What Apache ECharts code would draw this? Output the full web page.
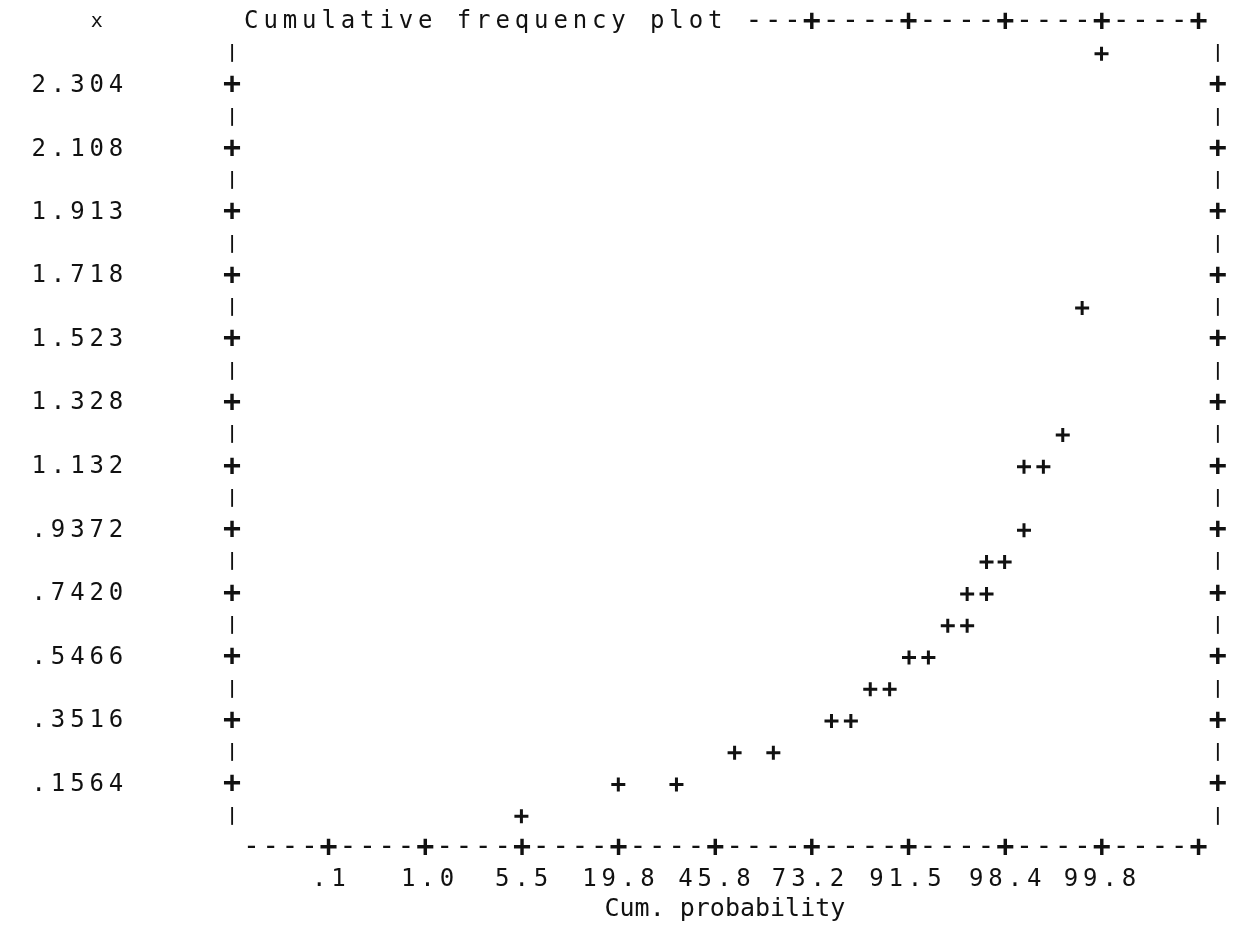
<!DOCTYPE html>
<html>
<head>
<meta charset="utf-8">
<script src="https://cdn.jsdelivr.net/npm/echarts@6/dist/echarts.min.js"></script>
<style>
html,body{margin:0;padding:0;background:#ffffff;}
#chart{width:1241px;height:928px;}
</style>
</head>
<body>
<div id="chart"></div>
<script>
// ---------------- data ----------------
const yTickLabels = ['2.304','2.108','1.913','1.718','1.523','1.328','1.132','.9372','.7420','.5466','.3516','.1564'];
const probTickLabels = ['.1','1.0','5.5','19.8','45.8','73.2','91.5','98.4','99.8'];
// normal score (probit of cumulative probability) of each plotted point
const normalScore = [-1.60, -0.85, -0.40, 0.05, 0.35, 0.80, 0.95, 1.10, 1.25, 1.40, 1.55, 1.70, 1.85, 1.85, 2.00, 2.00, 2.14, 2.29, 2.29, 2.44, 2.59, 2.74, 2.89];
// x value of each plotted point
const xValue = [0.0588, 0.1564, 0.1564, 0.2540, 0.2540, 0.3516, 0.3516, 0.4492, 0.4492, 0.5468, 0.5468, 0.6444, 0.6444, 0.7420, 0.7420, 0.8397, 0.8397, 0.9372, 1.1325, 1.1325, 1.2301, 1.6207, 2.4016];
const titleText = 'Cumulative frequency plot';
const xAxisTitle = 'Cum. probability';
const yAxisTitle = 'x';
// axis extents
const zMin = -3.84, zMax = 3.79;
const xMin = -0.0388, xMax = 2.4992;

// ---------------- helpers ----------------
function probit(p){
  const a=[-3.969683028665376e+01,2.209460984245205e+02,-2.759285104469687e+02,1.383577518672690e+02,-3.066479806614716e+01,2.506628277459239e+00];
  const b=[-5.447609879822406e+01,1.615858368580409e+02,-1.556989798598866e+02,6.680131188771972e+01,-1.328068155288572e+01];
  const c=[-7.784894002430293e-03,-3.223964580411365e-01,-2.400758277161838e+00,-2.549671685476039e+00,4.374664141464968e+00,2.938163982698783e+00];
  const d=[7.784695709041462e-03,3.224671290700398e-01,2.445134137142996e+00,3.754408661907416e+00];
  const pl=0.02425, ph=1-pl; let q, r;
  if(p<pl){q=Math.sqrt(-2*Math.log(p));return (((((c[0]*q+c[1])*q+c[2])*q+c[3])*q+c[4])*q+c[5])/((((d[0]*q+d[1])*q+d[2])*q+d[3])*q+1);}
  if(p>ph){q=Math.sqrt(-2*Math.log(1-p));return -(((((c[0]*q+c[1])*q+c[2])*q+c[3])*q+c[4])*q+c[5])/((((d[0]*q+d[1])*q+d[2])*q+d[3])*q+1);}
  q=p-0.5;r=q*q;return (((((a[0]*r+a[1])*r+a[2])*r+a[3])*r+a[4])*r+a[5])*q/(((((b[0]*r+b[1])*r+b[2])*r+b[3])*r+b[4])*r+1);
}
const probTickValues = probTickLabels.map(s => probit(parseFloat(s)/100));
const yTickValues = yTickLabels.map(s => parseFloat(s));
function nearestLabel(v, values, labels){
  let best = 0, bd = Infinity;
  values.forEach((t,i)=>{ const dd = Math.abs(t-v); if(dd<bd){bd=dd;best=i;} });
  return labels[best];
}

const FONT = 'DejaVu Sans Mono';
const INK = '#111111';
const GRID = {left:232, right:23.2, top:22, bottom:80};
const NCOL = 51, NROW = 26;
const PITCH = (1241 - GRID.left - GRID.right) / NCOL;

function mono(s){ return s.split('').map(ch => '{c|' + (ch === ' ' ? '\u00a0' : ch) + '}').join(''); }
const monoRich = { c: { width: PITCH, align: 'center', fontFamily: FONT, fontSize: 24, fontWeight: 'normal', color: INK, lineHeight: 30 } };
const frameRich = {
  p: { fontFamily: FONT, fontSize: 30, fontWeight: 'bold', color: INK, lineHeight: 30 },
  b: { fontFamily: FONT, fontSize: 17, fontWeight: 'bold', color: INK, lineHeight: 20 },
  d: { fontFamily: FONT, fontSize: 28, fontWeight: 'normal', color: INK, lineHeight: 30 }
};
function frameFmt(ch){ if(ch==='+') return '{p|+}'; if(ch==='|') return '{b||}'; if(ch==='-') return '{d|-}'; return ''; }

// printer frame characters
const sideChars = [];
for (let r = 0; r <= NROW; r++) sideChars.push((r===0||r===NROW) ? '' : (r%2===0 ? '+' : '|'));
const sideBottomUp = sideChars.slice().reverse();
const bottomChars = [], topChars = [];
for (let c = 0; c <= NCOL; c++) {
  bottomChars.push((c===0||c===NCOL) ? '' : (c%5===0 ? '+' : '-'));
  topChars.push((c<27||c===NCOL) ? '' : (c%5===0 ? '+' : '-'));
}
const rowKeys = sideChars.map((_,i)=>'r'+i);
const colKeys = bottomChars.map((_,i)=>'c'+i);

const hidden = { axisLine:{show:false,onZero:false}, axisTick:{show:false}, splitLine:{show:false} };

const chart = echarts.init(document.getElementById('chart'), null, {renderer:'canvas'});
chart.setOption({
  backgroundColor: '#ffffff',
  animation: false,
  title: {
    text: mono(titleText),
    left: GRID.left + PITCH*0.5, top: 6, padding: 0,
    textStyle: { fontWeight: 'normal', rich: { c: Object.assign({}, monoRich.c, {lineHeight: 32}) } }
  },
  grid: Object.assign({ containLabel:false, outerBoundsMode:'none' }, GRID),
  xAxis: [
    Object.assign({
      type:'value', min:zMin, max:zMax, position:'bottom',
      axisLabel:{ customValues: probTickValues, formatter: v => mono(nearestLabel(v, probTickValues, probTickLabels)),
        margin:32, verticalAlign:'middle', rich: monoRich, color: INK },
      name: xAxisTitle, nameLocation:'middle', nameGap:60,
      nameTextStyle:{ fontFamily: FONT, fontSize: 25, color: INK, verticalAlign:'middle' }
    }, hidden),
    Object.assign({
      type:'category', data: colKeys, boundaryGap:false, position:'bottom', offset:0,
      axisLabel:{ interval:0, margin:0, verticalAlign:'middle', align:'center', formatter:(v,i)=>frameFmt(bottomChars[i]), rich: frameRich }
    }, hidden),
    Object.assign({
      type:'category', data: colKeys, boundaryGap:false, position:'top', offset:0,
      axisLabel:{ interval:0, margin:0, verticalAlign:'middle', align:'center', formatter:(v,i)=>frameFmt(topChars[i]), rich: frameRich }
    }, hidden)
  ],
  yAxis: [
    Object.assign({
      type:'value', min:xMin, max:xMax, position:'left',
      axisLabel:{ customValues: yTickValues, formatter: v => mono(nearestLabel(v, yTickValues, yTickLabels)),
        margin: GRID.left - (GRID.left - 6*PITCH + PITCH/2), align:'right', verticalAlign:'middle', rich: monoRich, color: INK },
      name: yAxisTitle, nameLocation:'end', nameGap:0,
      nameTextStyle:{ fontFamily: FONT, fontSize: 20, color: INK, align:'center', verticalAlign:'middle',
        padding:[0, 2*7*PITCH, 0, 0] }
    }, hidden),
    Object.assign({
      type:'category', data: rowKeys, boundaryGap:false, position:'left', offset:0,
      axisLabel:{ interval:0, margin:0, align:'center', verticalAlign:'middle', formatter:(v,i)=>frameFmt(sideBottomUp[i]), rich: frameRich }
    }, hidden),
    Object.assign({
      type:'category', data: rowKeys, boundaryGap:false, position:'right', offset:0,
      axisLabel:{ interval:0, margin:0, align:'center', verticalAlign:'middle', formatter:(v,i)=>frameFmt(sideBottomUp[i]), rich: frameRich }
    }, hidden)
  ],
  series: [{
    type:'scatter', xAxisIndex:0, yAxisIndex:0,
    data: normalScore.map((z,i)=>[z, xValue[i]]),
    symbol:'path://M0,5.5H5.5V0H8.5V5.5H14V8.5H8.5V14H5.5V8.5H0Z', symbolSize:14,
    itemStyle:{ color: INK, opacity: 1 }, silent:true
  }]
});
</script>
</body>
</html>
